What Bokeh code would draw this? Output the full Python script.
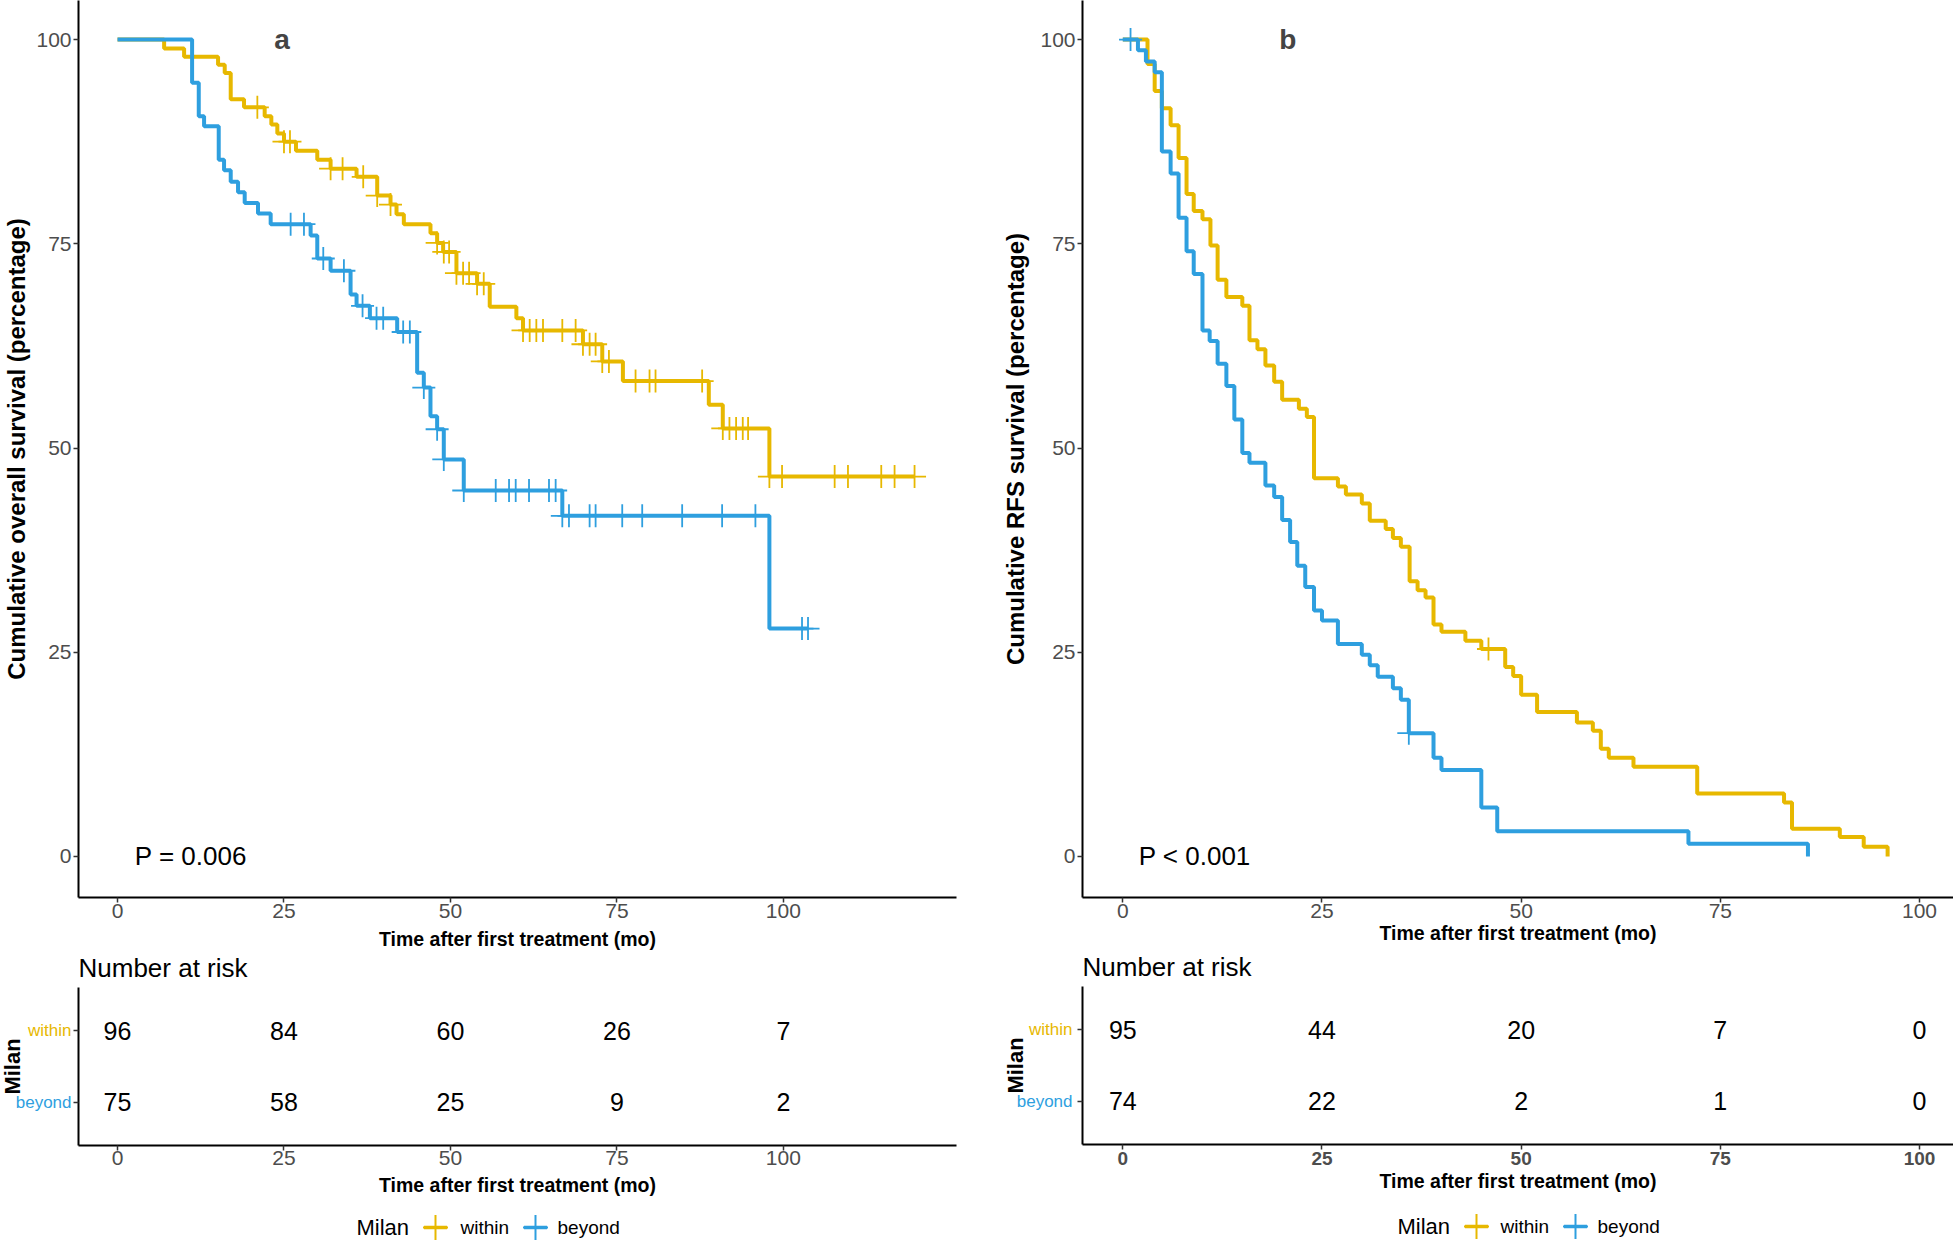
import numpy as np
from bokeh.plotting import figure
from bokeh.models import Range1d, FixedTicker, Label
from bokeh.layouts import row, column
from bokeh.embed import file_html
from bokeh.resources import INLINE
from bokeh.core.properties import value

GOLD = "#E7B800"
BLUE = "#2E9FDF"
COLORS = [GOLD, BLUE]
FONT = "Liberation Sans"
TICK_COLOR = "#4d4d4d"

GROUPS = ["within", "beyond"]
X_TICKS = [0, 25, 50, 75, 100]
Y_TICKS = [0, 25, 50, 75, 100]
RISK_TIMES = [0, 25, 50, 75, 100]
X_TITLE = "Time after first treatment (mo)"
STRATA_TITLE = "Milan"
RISK_TITLE = "Number at risk"

# ---------------- Panel a: overall survival ----------------
a_within_t = [0, 7.0, 10.0, 15.1, 16.1, 17.0, 19.0, 22.1, 23.1, 24.0, 25.0, 26.8, 30.0,
              32.0, 35.9, 39.0, 41.0, 41.9, 43.0, 47.0, 48.0, 48.9, 50.9, 54.0, 55.9,
              59.9, 60.9, 69.9, 72.8, 75.9, 88.8, 90.9, 97.9]
a_within_s = [100, 98.9, 97.9, 96.9, 95.9, 92.7, 91.7, 90.6, 89.6, 88.5, 87.5, 86.4, 85.3,
              84.2, 83.2, 80.9, 79.8, 78.6, 77.4, 76.3, 75.1, 74.0, 71.4, 70.1, 67.3,
              65.9, 64.4, 62.7, 60.6, 58.2, 55.3, 52.4, 46.5]
a_within_end = 119.7
a_within_cens = [21.0, 25.0, 25.9, 32.0, 33.8, 36.9, 39.0, 41.0, 48.0, 49.0, 49.8, 50.9,
                 51.9, 52.8, 54.0, 55.0, 60.9, 61.9, 62.9, 63.9, 66.8, 68.8, 69.9, 70.9,
                 71.8, 72.8, 73.8, 77.8, 79.9, 80.8, 87.8, 90.9, 91.9, 92.9, 93.9, 94.7,
                 97.9, 99.8, 107.7, 109.7, 114.7, 116.7, 119.7]

a_beyond_t = [0, 11.2, 12.2, 13.0, 15.2, 16.0, 17.0, 18.1, 19.1, 21.1, 23.0, 29.0, 30.0,
              32.0, 35.0, 35.9, 37.9, 42.0, 45.0, 46.0, 47.0, 48.0, 49.0, 52.0, 66.8, 97.9]
a_beyond_s = [100, 94.7, 90.6, 89.4, 85.3, 84.0, 82.6, 81.3, 80.0, 78.7, 77.4, 76.0, 73.2,
              71.7, 68.8, 67.4, 65.9, 64.2, 59.2, 57.4, 53.9, 52.3, 48.6, 44.8, 41.7, 27.9]
a_beyond_end = 103.7
a_beyond_cens = [26.0, 28.0, 30.9, 34.0, 36.8, 38.9, 39.9, 42.9, 43.9, 46.0, 48.0, 49.0,
                 52.0, 56.8, 58.8, 59.8, 61.8, 64.8, 65.8, 66.8, 67.8, 70.9, 71.8, 75.8,
                 78.8, 84.8, 90.8, 95.8, 102.8, 103.7]

a_risk_within = [96, 84, 60, 26, 7]
a_risk_beyond = [75, 58, 25, 9, 2]

# ---------------- Panel b: RFS ----------------
b_within_t = [0, 3.1, 4.0, 4.9, 6.0, 7.0, 8.0, 8.9, 10.0, 11.0, 11.9, 13.0, 15.0, 15.9,
              16.9, 17.9, 19.0, 20.0, 22.1, 23.1, 24.0, 27.0, 28.0, 30.0, 31.0, 33.0,
              33.9, 34.9, 36.0, 37.0, 38.0, 39.0, 40.0, 43.0, 45.0, 48.0, 49.0, 50.0,
              52.0, 57.0, 59.0, 60.0, 61.0, 64.1, 72.1, 83.0, 84.0, 90.0, 93.0, 96.0]
b_within_s = [100, 97.0, 93.7, 91.6, 89.5, 85.5, 81.1, 79.0, 78.0, 74.8, 70.6, 68.5, 67.4,
              63.2, 62.1, 60.1, 58.1, 55.9, 54.8, 53.8, 46.3, 45.3, 44.3, 43.2, 41.1, 40.1,
              39.0, 37.9, 33.7, 32.6, 31.7, 28.4, 27.5, 26.4, 25.4, 23.2, 22.1, 19.8,
              17.7, 16.4, 15.4, 13.2, 12.1, 11.0, 7.7, 6.6, 3.4, 2.4, 1.2, 0.0]
b_within_end = 96.0
b_within_cens = [45.9]

b_beyond_t = [0, 1.9, 2.9, 4.0, 4.9, 6.0, 7.0, 8.0, 8.9, 10.0, 10.9, 11.9, 13.0, 14.0,
              15.0, 15.9, 17.9, 19.0, 20.0, 21.0, 21.9, 22.9, 24.0, 25.0, 27.0, 30.0,
              31.0, 32.0, 33.9, 34.9, 35.9, 39.0, 40.0, 45.0, 47.0, 71.0, 86.0]
b_beyond_s = [100, 98.7, 97.3, 96.0, 86.3, 83.6, 78.2, 74.1, 71.3, 64.4, 63.1, 60.3, 57.6,
              53.5, 49.4, 48.2, 45.4, 44.0, 41.2, 38.5, 35.6, 33.0, 30.1, 28.9, 26.0,
              24.7, 23.4, 22.0, 20.6, 19.2, 15.1, 12.1, 10.6, 6.0, 3.1, 1.55, 0.0]
b_beyond_end = 86.0
b_beyond_cens = [0.97, 35.9]

b_risk_within = [95, 44, 20, 7, 0]
b_risk_beyond = [74, 22, 2, 1, 0]

# ---------------- layout constants (pixels) ----------------
MAIN_FH = 897
MAIN_BB = 54
HEAD_H = 35
TAB_FH = 158
TAB_BB = 61
LEG_H = 36
LEG_Y = 15
TAB_AXIS_W = 7


def surv_at(t, s, x):
    idx = np.searchsorted(np.asarray(t), np.asarray(x), side="right") - 1
    return np.asarray(s)[idx]


def style_axis(ax, label_size="21px", label_bold=False, label_standoff=1,
               title_standoff=0, title_size="19.5px"):
    ax.axis_line_width = 2
    ax.axis_line_color = "black"
    ax.major_tick_line_width = 1.5
    ax.major_tick_line_color = "#333333"
    ax.major_tick_out = 5
    ax.major_tick_in = 0
    ax.minor_tick_line_color = None
    ax.major_label_text_font = FONT
    ax.major_label_text_font_size = label_size
    ax.major_label_text_color = TICK_COLOR
    ax.major_label_text_font_style = "bold" if label_bold else "normal"
    ax.major_label_standoff = label_standoff
    ax.axis_label_text_font = FONT
    ax.axis_label_text_font_size = title_size
    ax.axis_label_text_font_style = "bold"
    ax.axis_label_text_color = "black"
    ax.axis_label_standoff = title_standoff


def strip_figure(cfg, h):
    """Axis-less strip whose frame lines up with the panel frame; x in px from frame left."""
    f = figure(frame_width=cfg["fw"], frame_height=h,
               x_range=Range1d(0, cfg["fw"]), y_range=Range1d(0, h),
               output_backend="svg", toolbar_location=None,
               x_axis_location=None, y_axis_location=None,
               min_border_left=cfg["bl"], min_border_right=cfg["br"],
               min_border_top=0, min_border_bottom=0)
    f.outline_line_color = None
    f.grid.visible = False
    return f


def make_panel(cfg):
    x0, x1 = cfg["xr"]
    # ---------- survival curves ----------
    main = figure(frame_width=cfg["fw"], frame_height=MAIN_FH,
                  x_range=Range1d(x0, x1), y_range=Range1d(-5.02, 104.78),
                  output_backend="svg", toolbar_location=None,
                  min_border_left=cfg["bl"], min_border_right=cfg["br"],
                  min_border_top=0, min_border_bottom=MAIN_BB)
    main.outline_line_color = None
    main.grid.visible = False
    main.xaxis.ticker = FixedTicker(ticks=X_TICKS)
    main.yaxis.ticker = FixedTicker(ticks=Y_TICKS)
    main.xaxis.axis_label = X_TITLE
    main.yaxis.axis_label = cfg["ylabel"]
    style_axis(main.xaxis[0], label_standoff=1, title_standoff=cfg["xt_standoff"])
    style_axis(main.yaxis[0], label_standoff=2, title_standoff=cfg["yt_standoff"],
               title_size="24px")

    curves = [(cfg["wt"], cfg["ws"], cfg["wend"], cfg["wc"], GOLD),
              (cfg["bt"], cfg["bs"], cfg["bend"], cfg["bc"], BLUE)]
    for t, s, end, cens, col in curves:
        xs = list(t) + [end]
        ys = list(s) + [s[-1]]
        main.step(x=xs, y=ys, mode="after", line_width=4, line_color=col)
    for t, s, end, cens, col in curves:
        main.scatter(x=cens, y=surv_at(t, s, cens), marker="cross", size=23,
                     line_color=col, line_width=1.8)

    main.add_layout(Label(x=cfg["tag_x"], y=100, text=cfg["tag"], text_font=FONT,
                          text_font_size="28px", text_font_style="bold",
                          text_align="center", text_baseline="middle"))
    main.add_layout(Label(x=cfg["p_x"], y=0, text=cfg["ptext"], text_font=FONT,
                          text_font_size="26px", text_align="left",
                          text_baseline="middle", text_color="black"))

    # ---------- risk table header ----------
    head = strip_figure(cfg, HEAD_H)
    head.text(x=[0], y=[20], text=[RISK_TITLE], text_font=value(FONT),
              text_font_size="26px", text_align="left", text_baseline="middle",
              text_color="black")

    # ---------- risk table: strata labels ----------
    lab_w = cfg["bl"] - TAB_AXIS_W
    lab = figure(frame_width=lab_w, frame_height=TAB_FH,
                 x_range=Range1d(0, lab_w), y_range=Range1d(0.4, 2.6),
                 output_backend="svg", toolbar_location=None,
                 x_axis_location=None, y_axis_location=None,
                 min_border_left=0, min_border_right=0,
                 min_border_top=0, min_border_bottom=TAB_BB)
    lab.outline_line_color = None
    lab.grid.visible = False
    lab.text(x=[cfg["lab_x"]] * 2, y=[2, 1], text=GROUPS,
             text_color=COLORS, text_font=value(FONT), text_font_size="17px",
             text_align="right", text_baseline="middle")
    lab.text(x=[cfg["milan_x"]], y=[1.5], text=[STRATA_TITLE], angle=np.pi / 2,
             text_font=value(FONT), text_font_size="22px", text_font_style="bold",
             text_align="center", text_baseline="middle", text_color="black")

    # ---------- risk table ----------
    tab = figure(frame_width=cfg["fw"], frame_height=TAB_FH,
                 x_range=Range1d(x0, x1), y_range=Range1d(0.4, 2.6),
                 output_backend="svg", toolbar_location=None,
                 min_border_left=TAB_AXIS_W, min_border_right=cfg["br"],
                 min_border_top=0, min_border_bottom=TAB_BB)
    tab.outline_line_color = None
    tab.grid.visible = False
    tab.xaxis.ticker = FixedTicker(ticks=X_TICKS)
    tab.yaxis.ticker = FixedTicker(ticks=[1, 2])
    tab.yaxis.major_label_overrides = {1: "", 2: ""}
    tab.xaxis.axis_label = X_TITLE
    style_axis(tab.xaxis[0], label_size=cfg["tab_tick_size"], label_bold=cfg["tab_tick_bold"],
               label_standoff=cfg["tab_lsoff"], title_standoff=cfg["tab_tsoff"])
    style_axis(tab.yaxis[0], label_standoff=0)

    for yv, counts in [(2, cfg["rw"]), (1, cfg["rb"])]:
        tab.text(x=RISK_TIMES, y=[yv] * len(RISK_TIMES), text=[str(c) for c in counts],
                 text_font=value(FONT), text_font_size="25px", text_align="center",
                 text_baseline="middle", text_color="black")

    # ---------- legend strip ----------
    leg = strip_figure(cfg, LEG_H)
    key_x = cfg["leg_key_x"]
    lbl_x = cfg["leg_lbl_x"]
    leg.text(x=[cfg["leg_title_x"]], y=[LEG_Y], text=[STRATA_TITLE],
             text_font=value(FONT), text_font_size="22px", text_baseline="middle",
             text_align="left", text_color="black")
    leg.segment(x0=[k - 11.5 for k in key_x], x1=[k + 11.5 for k in key_x],
                y0=[LEG_Y] * 2, y1=[LEG_Y] * 2, line_color=COLORS, line_width=3.5)
    leg.scatter(x=key_x, y=[LEG_Y] * 2, marker="cross", size=25, line_color=COLORS,
                line_width=2)
    leg.text(x=lbl_x, y=[LEG_Y] * 2, text=GROUPS, text_font=value(FONT),
             text_font_size="19px", text_baseline="middle", text_align="left",
             text_color="black")

    return column(main, head, row(lab, tab, spacing=0), leg, spacing=0)


cfg_a = dict(xr=(-5.86, 126.0), fw=878, bl=78, br=43, lab_x=71, milan_x=12,
             ylabel="Cumulative overall survival (percentage)",
             wt=a_within_t, ws=a_within_s, wend=a_within_end, wc=a_within_cens,
             bt=a_beyond_t, bs=a_beyond_s, bend=a_beyond_end, bc=a_beyond_cens,
             rw=a_risk_within, rb=a_risk_beyond, tag="a", tag_x=24.7,
             ptext="P = 0.006", p_x=2.6, xt_standoff=7, yt_standoff=3,
             tab_tick_size="21px", tab_tick_bold=False, tab_lsoff=0, tab_tsoff=6,
             leg_title_x=278, leg_key_x=[357, 457], leg_lbl_x=[382, 479])
cfg_b = dict(xr=(-5.06, 104.27), fw=871, bl=83, br=0, lab_x=73, milan_x=16,
             ylabel="Cumulative RFS survival (percentage)",
             wt=b_within_t, ws=b_within_s, wend=b_within_end, wc=b_within_cens,
             bt=b_beyond_t, bs=b_beyond_s, bend=b_beyond_end, bc=b_beyond_cens,
             rw=b_risk_within, rb=b_risk_beyond, tag="b", tag_x=20.7,
             ptext="P < 0.001", p_x=2.0, xt_standoff=1, yt_standoff=8,
             tab_tick_size="19px", tab_tick_bold=True, tab_lsoff=2, tab_tsoff=2,
             leg_title_x=315, leg_key_x=[394, 493], leg_lbl_x=[418, 515])

layout = row(make_panel(cfg_a), make_panel(cfg_b), spacing=0)

open("out.html", "w").write(file_html(layout, INLINE))
